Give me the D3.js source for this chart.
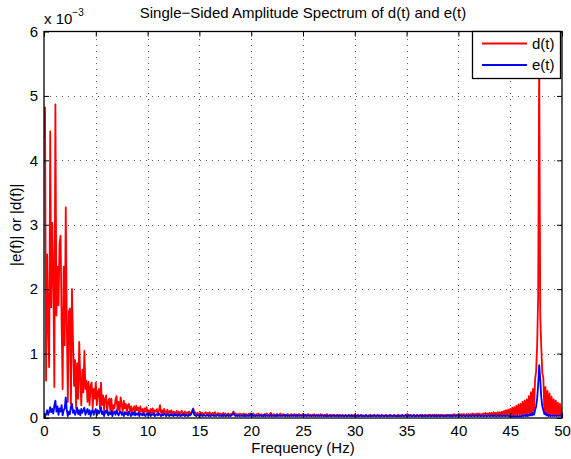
<!DOCTYPE html>
<html>
<head>
<meta charset="utf-8">
<title>Single-Sided Amplitude Spectrum</title>
<script src="https://cdn.jsdelivr.net/npm/d3@7"></script>
<style>
  body { margin: 0; background: #fff; }
  svg text { font-family: "Liberation Sans", Arial, Helvetica, sans-serif; fill: #000; }
</style>
</head>
<body>
<div id="container"></div>
<script>

// Spectrum bins every 0.1 Hz, 0 .. 50 Hz; magnitudes in units of 1e-3
const freqStep = 0.1;

// |d(f)|  (red)
const dMag = [
  4.35, 4.82, 0.58, 2.54, 1.4, 0.79, 4.45, 1.72, 3.03, 2.2,      // 0
  0.48, 4.87, 1.59, 2.35, 1.75, 2.7, 2.83, 1.48, 0.45, 2.35,     // 1
  1.13, 3.27, 1.48, 0.25, 1.65, 1.7, 0.22, 2.0, 1.2, 0.5,        // 2
  0.9, 0.15, 0.85, 0.3, 1.18, 0.6, 0.2, 0.75, 0.4, 1.04,         // 3
  0.45, 0.58, 0.25, 0.56, 0.2, 0.5, 0.55, 0.15, 0.45, 0.3,       // 4
  0.55, 0.2, 0.4, 0.45, 0.15, 0.55, 0.2, 0.35, 0.12, 0.3,        // 5
  0.35, 0.1, 0.25, 0.3, 0.12, 0.3, 0.08, 0.2, 0.15, 0.28,        // 6
  0.34, 0.12, 0.25, 0.1, 0.32, 0.2, 0.1, 0.27, 0.15, 0.22,       // 7
  0.08, 0.2, 0.22, 0.1, 0.18, 0.06, 0.15, 0.18, 0.08, 0.19,      // 8
  0.12, 0.16, 0.06, 0.18, 0.1, 0.14, 0.05, 0.15, 0.1, 0.17,      // 9
  0.08, 0.12, 0.06, 0.14, 0.08, 0.15, 0.05, 0.12, 0.1, 0.14,     // 10
  0.06, 0.12, 0.2, 0.08, 0.12, 0.05, 0.14, 0.1, 0.07, 0.13,      // 11
  0.05, 0.11, 0.08, 0.12, 0.04, 0.1, 0.09, 0.05, 0.11, 0.07,     // 12
  0.1, 0.04, 0.09, 0.11, 0.05, 0.08, 0.1, 0.04, 0.09, 0.06,      // 13
  0.1, 0.05, 0.08, 0.11, 0.15, 0.06, 0.09, 0.04, 0.08, 0.07,     // 14
  0.05, 0.09, 0.06, 0.08, 0.04, 0.07, 0.09, 0.05, 0.08, 0.06,    // 15
  0.09, 0.04, 0.07, 0.08, 0.05, 0.09, 0.06, 0.04, 0.08, 0.05,    // 16
  0.07, 0.06, 0.04, 0.08, 0.05, 0.07, 0.03, 0.06, 0.07, 0.04,    // 17
  0.06, 0.05, 0.08, 0.1, 0.05, 0.07, 0.04, 0.06, 0.05, 0.07,     // 18
  0.04, 0.06, 0.05, 0.07, 0.03, 0.06, 0.05, 0.04, 0.07, 0.05,    // 19
  0.06, 0.04, 0.07, 0.05, 0.03, 0.06, 0.05, 0.07, 0.04, 0.05,    // 20
  0.06, 0.03, 0.05, 0.06, 0.04, 0.07, 0.05, 0.04, 0.06, 0.08,    // 21
  0.05, 0.04, 0.06, 0.03, 0.05, 0.06, 0.04, 0.05, 0.07, 0.04,    // 22
  0.05, 0.06, 0.03, 0.05, 0.04, 0.06, 0.05, 0.03, 0.05, 0.06,    // 23
  0.04, 0.05, 0.06, 0.03, 0.05, 0.04, 0.06, 0.05, 0.04, 0.05,    // 24
  0.06, 0.04, 0.05, 0.03, 0.05, 0.06, 0.04, 0.05, 0.03, 0.05,    // 25
  0.04, 0.06, 0.03, 0.05, 0.04, 0.05, 0.03, 0.06, 0.04, 0.05,    // 26
  0.03, 0.05, 0.04, 0.06, 0.03, 0.04, 0.05, 0.03, 0.05, 0.04,    // 27
  0.05, 0.03, 0.04, 0.05, 0.03, 0.05, 0.04, 0.03, 0.05, 0.04,    // 28
  0.03, 0.05, 0.04, 0.03, 0.05, 0.04, 0.03, 0.05, 0.04, 0.03,    // 29
  0.05, 0.04, 0.03, 0.05, 0.03, 0.04, 0.05, 0.03, 0.04, 0.03,    // 30
  0.04, 0.05, 0.03, 0.04, 0.03, 0.05, 0.04, 0.03, 0.04, 0.05,    // 31
  0.03, 0.04, 0.05, 0.03, 0.04, 0.03, 0.05, 0.04, 0.03, 0.04,    // 32
  0.05, 0.03, 0.04, 0.03, 0.05, 0.04, 0.03, 0.04, 0.05, 0.03,    // 33
  0.04, 0.03, 0.05, 0.04, 0.03, 0.04, 0.05, 0.03, 0.04, 0.05,    // 34
  0.04, 0.03, 0.05, 0.04, 0.05, 0.03, 0.04, 0.05, 0.04, 0.03,    // 35
  0.05, 0.04, 0.03, 0.05, 0.04, 0.05, 0.03, 0.04, 0.05, 0.04,    // 36
  0.03, 0.05, 0.04, 0.05, 0.03, 0.05, 0.04, 0.05, 0.03, 0.05,    // 37
  0.04, 0.05, 0.03, 0.05, 0.04, 0.05, 0.04, 0.03, 0.05, 0.04,    // 38
  0.05, 0.04, 0.05, 0.03, 0.05, 0.04, 0.06, 0.04, 0.05, 0.04,    // 39
  0.06, 0.04, 0.05, 0.06, 0.04, 0.06, 0.05, 0.04, 0.06, 0.05,    // 40
  0.06, 0.04, 0.06, 0.05, 0.07, 0.04, 0.06, 0.05, 0.07, 0.04,    // 41
  0.07, 0.05, 0.06, 0.04, 0.07, 0.05, 0.08, 0.04, 0.07, 0.05,    // 42
  0.08, 0.04, 0.08, 0.05, 0.09, 0.04, 0.08, 0.05, 0.09, 0.04,    // 43
  0.09, 0.04, 0.1, 0.05, 0.11, 0.04, 0.12, 0.05, 0.13, 0.04,     // 44
  0.14, 0.05, 0.16, 0.04, 0.17, 0.05, 0.19, 0.04, 0.21, 0.05,    // 45
  0.22, 0.04, 0.25, 0.05, 0.27, 0.04, 0.29, 0.05, 0.34, 0.04,    // 46
  0.4, 0.06, 0.45, 0.1, 0.6, 0.72, 1.12, 1.9, 5.7, 1.6,          // 47
  1.1, 0.7, 0.62, 0.08, 0.48, 0.05, 0.42, 0.04, 0.38, 0.05,      // 48
  0.33, 0.04, 0.29, 0.05, 0.27, 0.04, 0.24, 0.05, 0.22, 0.04,    // 49
  0.16                                                          // 50
];

// |e(f)|  (blue)
const eMag = [
  0.0, 0.02, 0.06, 0.12, 0.05, 0.1, 0.17, 0.09, 0.14, 0.07,      // 0
  0.2, 0.27, 0.1, 0.18, 0.05, 0.15, 0.1, 0.2, 0.04, 0.12,        // 1
  0.15, 0.32, 0.12, 0.03, 0.1, 0.06, 0.18, 0.22, 0.08, 0.12,     // 2
  0.05, 0.1, 0.16, 0.06, 0.12, 0.04, 0.14, 0.08, 0.12, 0.16,     // 3
  0.05, 0.1, 0.14, 0.06, 0.12, 0.03, 0.1, 0.13, 0.05, 0.1,       // 4
  0.14, 0.04, 0.12, 0.07, 0.1, 0.17, 0.06, 0.1, 0.03, 0.11,      // 5
  0.08, 0.12, 0.04, 0.09, 0.06, 0.11, 0.03, 0.08, 0.1, 0.05,     // 6
  0.12, 0.07, 0.04, 0.09, 0.1, 0.05, 0.08, 0.03, 0.09, 0.06,     // 7
  0.08, 0.04, 0.1, 0.06, 0.03, 0.08, 0.05, 0.09, 0.04, 0.07,     // 8
  0.05, 0.08, 0.03, 0.07, 0.06, 0.04, 0.08, 0.05, 0.03, 0.07,    // 9
  0.06, 0.04, 0.08, 0.03, 0.06, 0.05, 0.07, 0.03, 0.05, 0.06,    // 10
  0.04, 0.07, 0.05, 0.03, 0.06, 0.04, 0.07, 0.05, 0.03, 0.06,    // 11
  0.05, 0.03, 0.06, 0.04, 0.05, 0.03, 0.06, 0.04, 0.05, 0.03,    // 12
  0.06, 0.04, 0.03, 0.05, 0.04, 0.06, 0.03, 0.05, 0.04, 0.03,    // 13
  0.05, 0.04, 0.06, 0.09, 0.14, 0.05, 0.04, 0.03, 0.05, 0.04,    // 14
  0.03, 0.05, 0.04, 0.03, 0.05, 0.04, 0.03, 0.04, 0.05, 0.03,    // 15
  0.04, 0.03, 0.05, 0.04, 0.03, 0.04, 0.03, 0.05, 0.04, 0.03,    // 16
  0.04, 0.03, 0.05, 0.03, 0.04, 0.03, 0.04, 0.05, 0.03, 0.04,    // 17
  0.03, 0.04, 0.06, 0.07, 0.04, 0.03, 0.04, 0.03, 0.04, 0.03,    // 18
  0.04, 0.03, 0.04, 0.03, 0.05, 0.03, 0.04, 0.03, 0.04, 0.03,    // 19
  0.07, 0.04, 0.03, 0.04, 0.03, 0.04, 0.03, 0.04, 0.03, 0.04,    // 20
  0.03, 0.04, 0.03, 0.05, 0.03, 0.04, 0.03, 0.04, 0.03, 0.05,    // 21
  0.03, 0.04, 0.03, 0.04, 0.03, 0.05, 0.03, 0.04, 0.03, 0.04,    // 22
  0.03, 0.04, 0.05, 0.03, 0.04, 0.03, 0.04, 0.03, 0.04, 0.03,    // 23
  0.04, 0.03, 0.04, 0.03, 0.05, 0.03, 0.04, 0.03, 0.04, 0.03,    // 24
  0.04, 0.03, 0.05, 0.04, 0.03, 0.04, 0.03, 0.04, 0.03, 0.04,    // 25
  0.03, 0.04, 0.03, 0.04, 0.03, 0.04, 0.03, 0.04, 0.03, 0.04,    // 26
  0.03, 0.04, 0.03, 0.03, 0.04, 0.03, 0.04, 0.03, 0.03, 0.04,    // 27
  0.03, 0.04, 0.03, 0.04, 0.03, 0.03, 0.04, 0.03, 0.04, 0.03,    // 28
  0.03, 0.04, 0.03, 0.03, 0.04, 0.03, 0.04, 0.03, 0.03, 0.04,    // 29
  0.03, 0.04, 0.03, 0.04, 0.03, 0.03, 0.04, 0.03, 0.04, 0.03,    // 30
  0.03, 0.04, 0.03, 0.03, 0.04, 0.03, 0.03, 0.04, 0.03, 0.04,    // 31
  0.03, 0.03, 0.04, 0.03, 0.04, 0.03, 0.03, 0.04, 0.03, 0.03,    // 32
  0.04, 0.03, 0.03, 0.04, 0.03, 0.04, 0.03, 0.03, 0.04, 0.03,    // 33
  0.03, 0.04, 0.03, 0.03, 0.04, 0.03, 0.04, 0.03, 0.03, 0.04,    // 34
  0.03, 0.03, 0.04, 0.03, 0.04, 0.03, 0.03, 0.04, 0.03, 0.03,    // 35
  0.04, 0.03, 0.03, 0.04, 0.03, 0.03, 0.04, 0.03, 0.03, 0.04,    // 36
  0.03, 0.03, 0.04, 0.03, 0.03, 0.04, 0.03, 0.03, 0.04, 0.03,    // 37
  0.03, 0.04, 0.03, 0.03, 0.04, 0.03, 0.03, 0.04, 0.03, 0.03,    // 38
  0.04, 0.03, 0.03, 0.04, 0.03, 0.03, 0.04, 0.03, 0.03, 0.04,    // 39
  0.03, 0.03, 0.04, 0.03, 0.03, 0.04, 0.03, 0.03, 0.04, 0.03,    // 40
  0.03, 0.04, 0.03, 0.03, 0.04, 0.03, 0.03, 0.04, 0.03, 0.03,    // 41
  0.04, 0.03, 0.03, 0.04, 0.03, 0.03, 0.04, 0.03, 0.03, 0.04,    // 42
  0.03, 0.03, 0.04, 0.03, 0.03, 0.04, 0.03, 0.03, 0.04, 0.03,    // 43
  0.03, 0.04, 0.03, 0.03, 0.04, 0.03, 0.03, 0.04, 0.03, 0.03,    // 44
  0.03, 0.02, 0.03, 0.02, 0.03, 0.02, 0.03, 0.03, 0.02, 0.03,    // 45
  0.03, 0.02, 0.04, 0.03, 0.04, 0.03, 0.05, 0.03, 0.05, 0.04,    // 46
  0.06, 0.04, 0.08, 0.05, 0.12, 0.18, 0.3, 0.52, 0.82, 0.6,      // 47
  0.32, 0.18, 0.12, 0.06, 0.08, 0.04, 0.06, 0.03, 0.05, 0.03,    // 48
  0.04, 0.03, 0.04, 0.03, 0.04, 0.03, 0.04, 0.03, 0.04, 0.03,    // 49
  0.04                                                          // 50
];

const xTicks = [0, 5, 10, 15, 20, 25, 30, 35, 40, 45, 50];
const yTicks = [0, 1, 2, 3, 4, 5, 6];
const seriesNames = ["d(t)", "e(t)"];
const seriesColors = ["#ff0000", "#0000ff"];

// Page size and plot box
const W = 571, H = 459;
const plotLeft = 44, plotRight = 562, plotTop = 31.5, plotBottom = 418;

const svg = d3.select("#container")
  .append("svg")
  .attr("width", W)
  .attr("height", H);

const x = d3.scaleLinear().domain([0, 50]).range([plotLeft, plotRight]);
const y = d3.scaleLinear().domain([0, 6]).range([plotBottom, plotTop]);

// Grid (dotted)
const grid = svg.append("g")
  .attr("stroke", "#333")
  .attr("stroke-width", 0.8)
  .attr("stroke-dasharray", "1,5");
grid.selectAll(".gx")
  .data(xTicks.slice(1, -1))
  .enter().append("line")
  .attr("x1", d => Math.round(x(d)) + 0.5).attr("x2", d => Math.round(x(d)) + 0.5)
  .attr("y1", plotBottom).attr("y2", plotTop);
grid.selectAll(".gy")
  .data(yTicks.slice(1, -1))
  .enter().append("line")
  .attr("y1", d => Math.round(y(d)) + 0.5).attr("y2", d => Math.round(y(d)) + 0.5)
  .attr("x1", plotLeft).attr("x2", plotRight);

// Data lines
svg.append("clipPath").attr("id", "plotclip")
  .append("rect")
  .attr("x", plotLeft).attr("y", plotTop)
  .attr("width", plotRight - plotLeft).attr("height", plotBottom - plotTop);

const freqs = dMag.map((v, i) => +(i * freqStep).toFixed(1));
const line = d3.line()
  .x((d, i) => x(freqs[i]))
  .y(d => y(d));

[dMag, eMag].forEach((vals, k) => {
  svg.append("path")
    .datum(vals)
    .attr("clip-path", "url(#plotclip)")
    .attr("fill", "none")
    .attr("stroke", seriesColors[k])
    .attr("stroke-width", 1.8)
    .attr("stroke-linejoin", "round")
    .attr("d", line);
});

// Axes, MATLAB style: ticks pointing inward on all four sides
const fontSize = "15px";

const xAxis = svg.append("g")
  .attr("transform", `translate(0,${plotBottom})`)
  .call(d3.axisBottom(x).tickValues(xTicks).tickFormat(d3.format("d"))
    .tickSizeInner(-5).tickSizeOuter(0).tickPadding(7));
xAxis.selectAll("text").style("font-size", fontSize);

const yAxis = svg.append("g")
  .attr("transform", `translate(${plotLeft},0)`)
  .call(d3.axisLeft(y).tickValues(yTicks).tickFormat(d3.format("d"))
    .tickSizeInner(-5).tickSizeOuter(0).tickPadding(6));
yAxis.selectAll("text").style("font-size", fontSize);

svg.append("g")
  .attr("transform", `translate(0,${plotTop})`)
  .call(d3.axisTop(x).tickValues(xTicks).tickSizeInner(-5).tickSizeOuter(0).tickFormat(""));

svg.append("g")
  .attr("transform", `translate(${plotRight},0)`)
  .call(d3.axisRight(y).tickValues(yTicks).tickSizeInner(-5).tickSizeOuter(0).tickFormat(""));

svg.selectAll(".domain").remove();

// Box
svg.append("rect")
  .attr("x", plotLeft).attr("y", plotTop)
  .attr("width", plotRight - plotLeft).attr("height", plotBottom - plotTop)
  .attr("fill", "none")
  .attr("stroke", "#000")
  .attr("stroke-width", 1.3);

// Exponent label
const expo = svg.append("text")
  .attr("x", plotLeft)
  .attr("y", 24)
  .style("font-size", fontSize);
expo.append("tspan").text("x 10");
expo.append("tspan").attr("dy", -8.5).style("font-size", "10px").text("\u22123");

// Title and axis labels
svg.append("text")
  .attr("x", (plotLeft + plotRight) / 2)
  .attr("y", 18)
  .attr("text-anchor", "middle")
  .style("font-size", fontSize)
  .text("Single\u2212Sided Amplitude Spectrum of d(t) and e(t)");

svg.append("text")
  .attr("x", (plotLeft + plotRight) / 2)
  .attr("y", 453)
  .attr("text-anchor", "middle")
  .style("font-size", fontSize)
  .text("Frequency (Hz)");

svg.append("text")
  .attr("transform", `translate(21,${(plotTop + plotBottom) / 2}) rotate(-90)`)
  .attr("text-anchor", "middle")
  .style("font-size", fontSize)
  .text("|e(f)| or |d(f)|");

// Legend
const legend = svg.append("g");
legend.append("rect")
  .attr("x", 472.5).attr("y", plotTop)
  .attr("width", 88).attr("height", 47)
  .attr("fill", "#fff")
  .attr("stroke", "#000")
  .attr("stroke-width", 1.3);

seriesNames.forEach((name, k) => {
  const ly = 43.5 + k * 21.5;
  legend.append("line")
    .attr("x1", 482).attr("x2", 527)
    .attr("y1", ly).attr("y2", ly)
    .attr("stroke", seriesColors[k])
    .attr("stroke-width", 1.8);
  legend.append("text")
    .attr("x", 532)
    .attr("y", ly + 5)
    .style("font-size", fontSize)
    .text(name);
});

</script>
</body>
</html>
